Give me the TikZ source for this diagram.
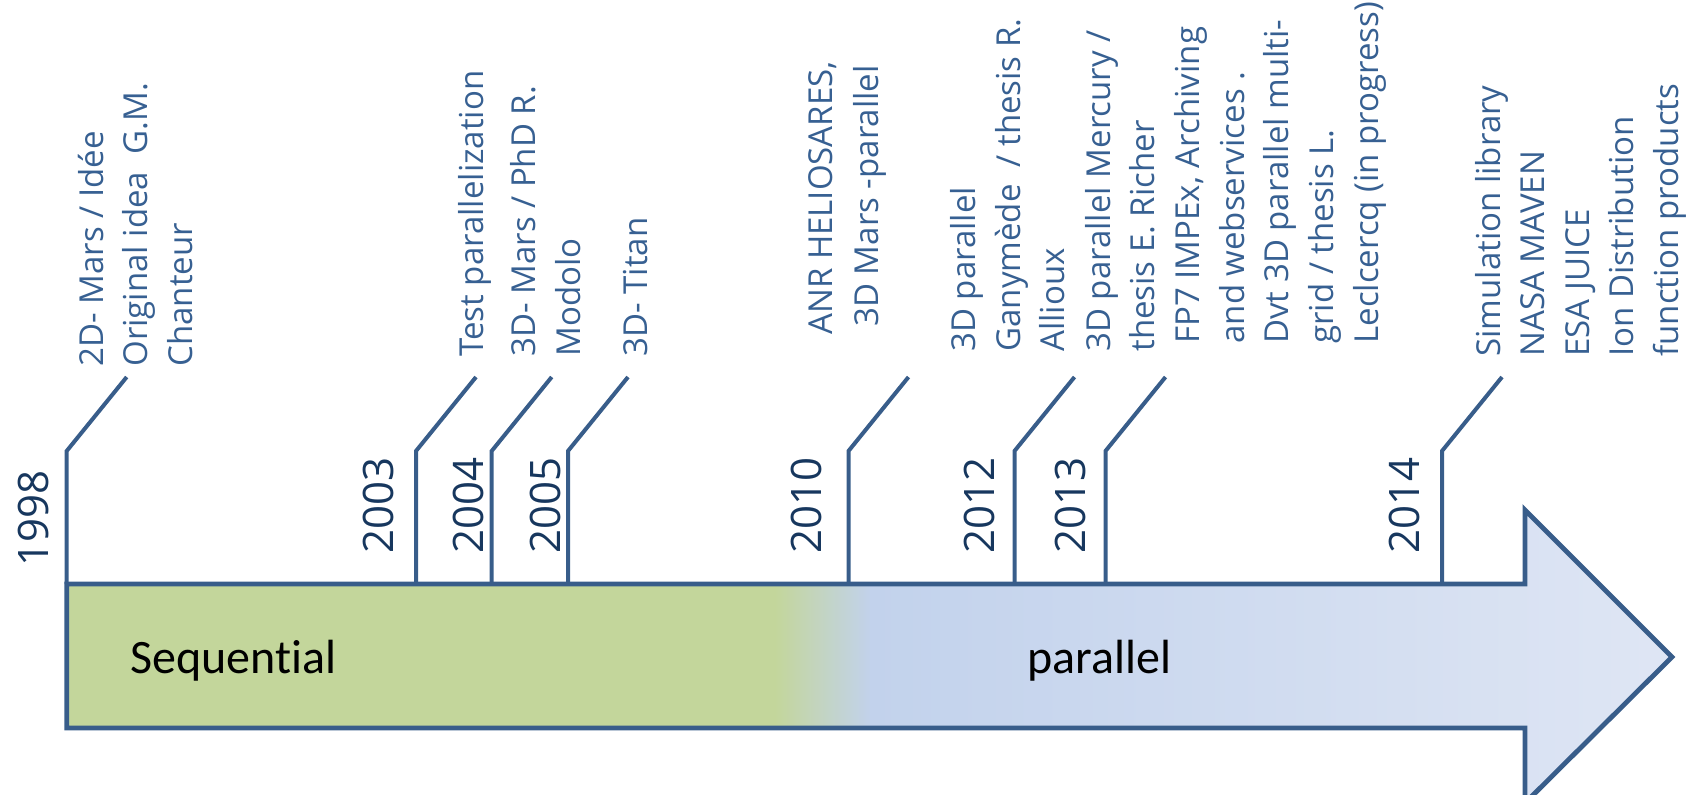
\documentclass[tikz,border=0pt]{standalone}
\usepackage{fontspec}
\setmainfont{Open Sans}
\newfontfamily\calfont[Ligatures=NoCommon]{Carlito}
\definecolor{lblblue}{HTML}{376092}
\definecolor{lineblue}{HTML}{385D8A}
\definecolor{yearblue}{HTML}{17375E}
\definecolor{seqgreen}{HTML}{C3D69B}
\definecolor{parblueA}{HTML}{C2D2EC}
\definecolor{parblueB}{HTML}{DFE6F4}
\begin{document}
\begin{tikzpicture}[x=0.5pt,y=-0.5pt,
  lbl/.style={rotate=90, anchor=base west, inner sep=0pt, text=lblblue, font=\fontsize{16.5}{20}\selectfont},
  yearlbl/.style={rotate=90, anchor=base west, inner sep=0pt, text=yearblue, font=\fontsize{21}{25}\selectfont},
  phase/.style={anchor=base west, inner sep=0pt, text=black, font=\calfont\fontsize{24}{28}\selectfont},
  tickline/.style={draw=lineblue, line width=2pt},
  arrowline/.style={draw=lineblue, line width=2.4pt, line join=miter}]
\useasboundingbox (0,0) rectangle (1686,794);
\clip (0,0) rectangle (1686,794);
% arrow fill
\begin{scope}
\clip (66.7,584) -- (1525,584) -- (1525,510) -- (1672,657) -- (1525,803) -- (1525,728) -- (66.7,728) -- cycle;
\fill[seqgreen] (60,500) rectangle (776,810);
\shade[left color=seqgreen, right color=parblueA] (775,500) rectangle (871,810);
\shade[left color=parblueA, right color=parblueB] (870,500) rectangle (1680,810);
\end{scope}
% ticks
\foreach \n/\x in {98/66.7, 03/416, 04/491.7, 05/568, 10/848.5, 12/1014.5, 13/1105.5, 14/1442}{
  \coordinate (f\n) at (\x,584);
  \coordinate (k\n) at (\x,451);
  \coordinate (e\n) at ({\x+60},377);
  \draw[tickline] (f\n) -- (k\n) -- (e\n);
}
% arrow outline
\draw[arrowline] (66.7,584) -- (1525,584) -- (1525,510) -- (1672,657) -- (1525,803) -- (1525,728) -- (66.7,728) -- cycle;
% years
\node[yearlbl] (y98) at (48.5,567) {1998};
\node[yearlbl] (y03) at (393.5,554) {2003};
\node[yearlbl] (y04) at (483.5,554) {2004};
\node[yearlbl] (y05) at (560,554) {2005};
\node[yearlbl] (y10) at (821,554) {2010};
\node[yearlbl] (y12) at (994,554) {2012};
\node[yearlbl] (y13) at (1085,554) {2013};
\node[yearlbl] (y14) at (1419,554) {2014};
% phases
\node[phase] (seq) at (130,673) {Sequent\kern0pt ial};
\node[phase] (par) at (1027,673) {parallel};
% labels 1998
\node[lbl] (a1) at (103,367) {2D- Mars / Idée};
\node[lbl] (a2) at (147.5,367) {Original idea~~G.M.};
\node[lbl] (a3) at (192,367) {Chanteur};
% 2003
\node[lbl] (b1) at (483,357) {Test parallelization};
% 2004
\node[lbl] (c1) at (535,357) {3D- Mars / PhD R.};
\node[lbl] (c2) at (580,357) {Modolo};
% 2005
\node[lbl] (d1) at (647,357) {3D- Titan};
% 2010
\node[lbl] (g1) at (832,335) {ANR HELIOSARES,};
\node[lbl] (g2) at (878,327) {3D Mars -parallel};
% 2012
\node[lbl] (h1) at (975,352) {3D parallel};
\node[lbl] (h2) at (1020,352) {Ganymède~~/ thesis R.};
\node[lbl] (h3) at (1064,352) {Allioux};
% 2013
\node[lbl] (i1) at (1110,352) {3D parallel Mercury /};
\node[lbl] (i2) at (1154.7,352) {thesis E. Richer};
\node[lbl] (i3) at (1199.3,344) {FP7 IMPEx, Archiving};
\node[lbl] (i4) at (1244,344) {and webservices .};
\node[lbl] (i5) at (1288.7,344) {Dvt 3D parallel multi-};
\node[lbl] (i6) at (1333.3,344) {grid / thesis L.};
\node[lbl] (i7) at (1378,344) {Leclcercq (in progress)};
% 2014
\node[lbl] (j1) at (1500,357) {Simulation library};
\node[lbl] (j2) at (1544.5,357) {NASA MAVEN};
\node[lbl] (j3) at (1589,357) {ESA JUICE};
\node[lbl] (j4) at (1633.5,357) {Ion Distribution};
\node[lbl] (j5) at (1678,357) {function products};
\end{tikzpicture}
\end{document}
